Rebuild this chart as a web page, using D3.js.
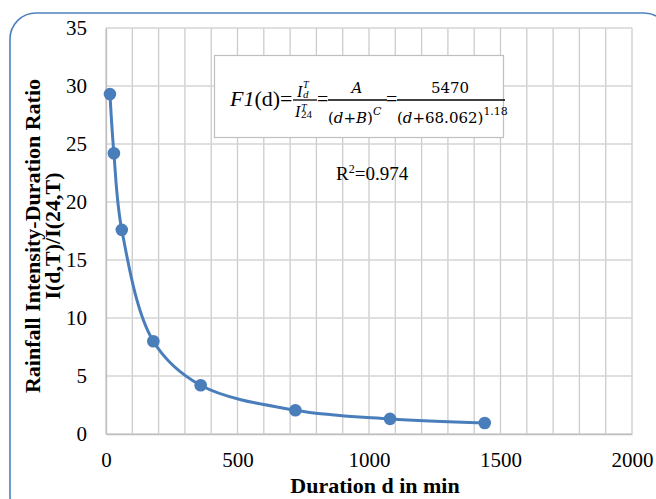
<!DOCTYPE html>
<html>
<head>
<meta charset="utf-8">
<script src="https://cdn.jsdelivr.net/npm/d3@7"></script>
<style>
  html, body { margin: 0; padding: 0; background: #fff; }
  svg { display: block; }
  text { font-family: "Liberation Serif", "Times New Roman", serif; fill: #000; }
</style>
</head>
<body>
<svg id="chart" width="656" height="499"></svg>
<script>
// Duration (min) and the ratio I(d,T)/I(24,T)
const durations = [15, 30, 60, 180, 360, 720, 1080, 1440];
const ratios = [29.3, 24.2, 17.6, 8.0, 4.2, 2.05, 1.3, 0.95];
const xTicks = [0, 500, 1000, 1500, 2000];
const yTicks = [0, 5, 10, 15, 20, 25, 30, 35];
const xGrid = d3.range(0, 2001, 100);

const plot = { left: 106, right: 632, top: 28, bottom: 434 };
const blue = "#4a7ebb";
const serif = "'Liberation Serif', 'Times New Roman', serif";
const mathFont = "'DejaVu Serif', 'Liberation Serif', serif";

const svg = d3.select("#chart");

// outer rounded frame
svg.append("rect")
  .attr("x", 10).attr("y", 13)
  .attr("width", 660).attr("height", 510)
  .attr("rx", 26).attr("ry", 26)
  .attr("fill", "#fff")
  .attr("stroke", "#4f81bd").attr("stroke-width", 1.6);

const x = d3.scaleLinear().domain([0, 2000]).range([plot.left, plot.right]);
const y = d3.scaleLinear().domain([0, 35]).range([plot.bottom, plot.top]);

// grid
const grid = svg.append("g");
grid.selectAll("line.v").data(xGrid).join("line")
  .attr("x1", d => x(d)).attr("x2", d => x(d))
  .attr("y1", plot.top).attr("y2", plot.bottom)
  .attr("stroke", "#cccccc").attr("stroke-width", 1.3);
grid.selectAll("line.h").data(yTicks).join("line")
  .attr("x1", plot.left).attr("x2", plot.right)
  .attr("y1", d => y(d)).attr("y2", d => y(d))
  .attr("stroke", "#d4d4d4").attr("stroke-width", 1.3);

// axes
const xAxis = svg.append("g")
  .attr("transform", `translate(0,${plot.bottom})`)
  .call(d3.axisBottom(x).tickValues(xTicks).tickFormat(d3.format("d")).tickSize(0).tickPadding(18));
xAxis.select(".domain").attr("stroke", "#bfbfbf").attr("stroke-width", 1.3);
xAxis.selectAll("text").style("font-size", "21px").style("font-family", serif);

const yAxis = svg.append("g")
  .attr("transform", `translate(${plot.left},0)`)
  .call(d3.axisLeft(y).tickValues(yTicks).tickSize(0).tickPadding(19));
yAxis.select(".domain").attr("stroke", "#bfbfbf").attr("stroke-width", 1.3);
yAxis.selectAll("text").style("font-size", "21px").style("font-family", serif);

// formula box
const box = svg.append("g");
box.append("rect")
  .attr("x", 214.5).attr("y", 55.5).attr("width", 289).attr("height", 82)
  .attr("fill", "#fff").attr("stroke", "#bfbfbf").attr("stroke-width", 1.2);

const f1 = box.append("text").attr("x", 230).attr("y", 106).style("font-size", "22px");
f1.append("tspan").attr("font-style", "italic").text("F1");
f1.append("tspan").text("(d)=");

function bar(x1, x2, yy) {
  box.append("line").attr("x1", x1).attr("x2", x2).attr("y1", yy).attr("y2", yy)
    .attr("stroke", "#000").attr("stroke-width", 1.3);
}

// I_d^T / I_24^T : base letter with stacked super/subscripts
function stackedI(xx, base, sup, supOff, sub, subItalic) {
  box.append("text").attr("x", xx).attr("y", base)
    .style("font-size", "16px").style("font-style", "italic").style("font-family", serif).text("I");
  box.append("text").attr("x", xx + 6).attr("y", base - supOff)
    .style("font-size", "10px").style("font-style", "italic").style("font-family", serif).text(sup);
  box.append("text").attr("x", xx + 6).attr("y", base + 1)
    .style("font-size", "11px").style("font-style", subItalic ? "italic" : "normal")
    .style("font-family", serif).text(sub);
}
bar(293, 317, 100);
stackedI(297, 97, "T", 9, "d", true);
stackedI(295, 117, "T", 6, "24", false);
box.append("text").attr("x", 317).attr("y", 106).style("font-size", "20px").text("=");

// A / (d+B)^C
bar(328, 387, 100);
box.append("text").attr("x", 357).attr("y", 93).attr("text-anchor", "middle")
  .style("font-size", "15px").style("font-style", "italic").style("font-family", mathFont).text("A");
const d2 = box.append("text").attr("x", 328).attr("y", 123)
  .style("font-size", "15px").style("font-family", mathFont);
d2.append("tspan").text("(");
d2.append("tspan").style("font-style", "italic").text("d");
d2.append("tspan").text("+");
d2.append("tspan").style("font-style", "italic").text("B");
d2.append("tspan").text(")");
d2.append("tspan").attr("dy", -8).style("font-size", "11px").style("font-style", "italic").text("C");
box.append("text").attr("x", 386).attr("y", 106).style("font-size", "20px").text("=");

// 5470 / (d+68.062)^1.18
bar(397, 505, 100);
box.append("text").attr("x", 450).attr("y", 93).attr("text-anchor", "middle")
  .style("font-size", "15px").style("font-family", mathFont).text("5470");
const d3t = box.append("text").attr("x", 397).attr("y", 123)
  .style("font-size", "15px").style("font-family", mathFont);
d3t.append("tspan").text("(");
d3t.append("tspan").style("font-style", "italic").text("d");
d3t.append("tspan").text("+68.062)");
d3t.append("tspan").attr("dy", -8).style("font-size", "11px").text("1.18");

// R²
const r2 = svg.append("text").attr("x", 336).attr("y", 180).style("font-size", "19px");
r2.append("tspan").text("R");
r2.append("tspan").attr("dy", -7).style("font-size", "12px").text("2");
r2.append("tspan").attr("dy", 7).text("=0.974");

// smoothed line and markers
const pts = durations.map((d, i) => [d, ratios[i]]);
const line = d3.line().x(d => x(d[0])).y(d => y(d[1])).curve(d3.curveCatmullRom.alpha(0.5));
svg.append("path").datum(pts)
  .attr("d", line).attr("fill", "none")
  .attr("stroke", blue).attr("stroke-width", 3);
svg.selectAll("circle.pt").data(pts).join("circle")
  .attr("cx", d => x(d[0])).attr("cy", d => y(d[1])).attr("r", 6.3)
  .attr("fill", blue);

// axis titles
svg.append("text").attr("x", 375).attr("y", 493).attr("text-anchor", "middle")
  .style("font-size", "22px").style("font-weight", "bold").text("Duration d in min");
const yt = svg.append("text").attr("transform", "translate(0,236) rotate(-90)")
  .attr("text-anchor", "middle").style("font-size", "22px").style("font-weight", "bold");
yt.append("tspan").attr("x", 0).attr("y", 40).text("Rainfall Intensity-Duration Ratio");
yt.append("tspan").attr("x", 0).attr("y", 60).text("I(d,T)/I(24,T)");
</script>
</body>
</html>
